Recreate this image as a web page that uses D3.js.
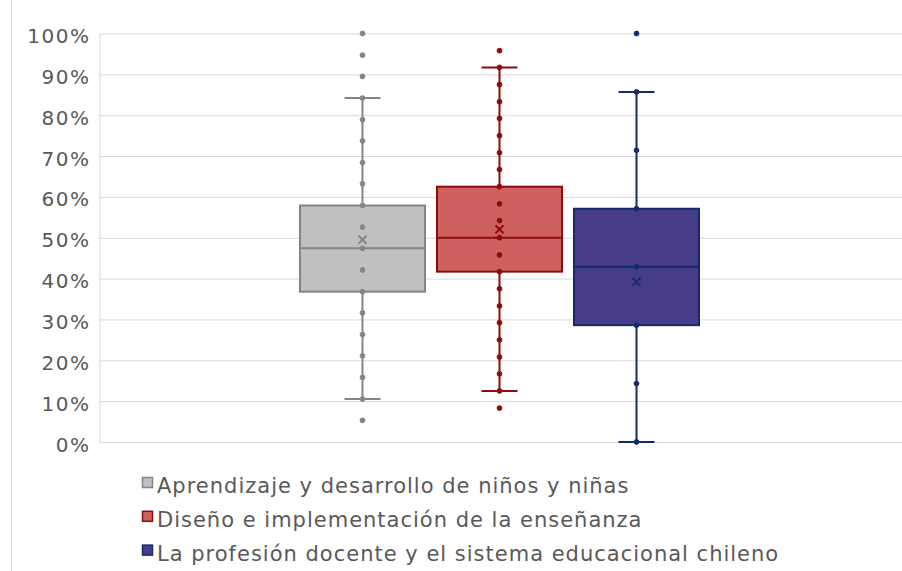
<!DOCTYPE html>
<html>
<head>
<meta charset="utf-8">
<script src="https://cdn.jsdelivr.net/npm/d3@7"></script>
<style>
  body { margin: 0; background: #fff; }
  text { font-family: "DejaVu Sans", sans-serif; fill: #595959; }
</style>
</head>
<body>
<div id="chart"></div>
<script>
// series names, box stats (in %), and the inner points shown on each box
var series = [
  "Aprendizaje y desarrollo de niños y niñas",
  "Diseño e implementación de la enseñanza",
  "La profesión docente y el sistema educacional chileno"
];
var fills = ["#c0c0c0", "#d06060", "#473c8a"];
var strokes = ["#858585", "#8c0c0c", "#142b68"];

var q1 = [36.8, 41.7, 28.6];
var medians = [47.4, 50.0, 42.9];
var q3 = [57.9, 62.5, 57.1];
var whiskerLow = [10.5, 12.5, 0];
var whiskerHigh = [84.2, 91.7, 85.7];
var means = [49.5, 52.1, 39.2];

var pointsA = [5.3, 10.5, 15.8, 21.1, 26.3, 31.6, 36.8, 42.1, 47.4, 52.6, 57.9,
               63.2, 68.4, 73.7, 78.9, 84.2, 89.5, 94.7, 100];
var pointsB = [8.3, 12.5, 16.7, 20.8, 25.0, 29.2, 33.3, 37.5, 41.7, 45.8, 50.0,
               54.2, 58.3, 62.5, 66.7, 70.8, 75.0, 79.2, 83.3, 87.5, 91.7, 95.8];
var pointsC = [0, 14.3, 28.6, 42.9, 57.1, 71.4, 85.7, 100];
var points = [pointsA, pointsB, pointsC];

var yTicks = [0, 10, 20, 30, 40, 50, 60, 70, 80, 90, 100];

var width = 902,
    height = 571,
    margin = {top: 33.5, right: 0, bottom: 129, left: 99.5};

var svg = d3.select("#chart").append("svg")
    .attr("width", width)
    .attr("height", height);

// chart area left border
svg.append("line")
    .attr("x1", 11.5).attr("x2", 11.5)
    .attr("y1", 0).attr("y2", height)
    .style("stroke", "#d9d9d9");

var y = d3.scaleLinear()
    .domain([0, 100])
    .range([height - margin.bottom, margin.top]);

var x = d3.scaleBand()
    .domain(series)
    .range([300, 699])
    .paddingInner(0.0876);

var yAxis = svg.append("g")
    .attr("transform", "translate(" + margin.left + ",0)")
    .call(d3.axisLeft(y)
      .tickValues(yTicks)
      .tickSizeInner(-(width - margin.left))
      .tickSizeOuter(0)
      .tickPadding(9)
      .tickFormat(function(d) { return d + "%"; }));

yAxis.select(".domain").style("stroke", "#d9d9d9");
yAxis.selectAll(".tick line").style("stroke", "#d9d9d9");
yAxis.selectAll(".tick text")
    .style("font-size", "20px")
    .style("letter-spacing", "1.5px")
    .attr("dy", "0.45em");

var capW = 36;

series.forEach(function(s, i) {
  var g = svg.append("g");
  var x0 = x(s), bw = x.bandwidth(), cx = x0 + bw / 2;

  // whisker line
  g.append("line")
      .attr("x1", cx).attr("x2", cx)
      .attr("y1", y(whiskerLow[i])).attr("y2", y(whiskerHigh[i]))
      .style("stroke", strokes[i]).style("stroke-width", 2);

  [whiskerLow[i], whiskerHigh[i]].forEach(function(v) {
    g.append("line")
        .attr("x1", cx - capW / 2).attr("x2", cx + capW / 2)
        .attr("y1", y(v)).attr("y2", y(v))
        .style("stroke", strokes[i]).style("stroke-width", 2);
  });

  // box
  g.append("rect")
      .attr("x", x0).attr("width", bw)
      .attr("y", y(q3[i])).attr("height", y(q1[i]) - y(q3[i]))
      .style("fill", fills[i])
      .style("stroke", strokes[i]).style("stroke-width", 2);

  g.append("line")
      .attr("x1", x0).attr("x2", x0 + bw)
      .attr("y1", y(medians[i])).attr("y2", y(medians[i]))
      .style("stroke", strokes[i]).style("stroke-width", 2);

  // inner points and outliers
  g.selectAll("circle")
      .data(points[i])
      .enter().append("circle")
      .attr("cx", cx)
      .attr("cy", function(d) { return y(d); })
      .attr("r", 2.4)
      .style("fill", strokes[i])
      .style("stroke", strokes[i])
      .style("stroke-width", 1);

  // mean marker
  var m = 4, my = y(means[i]);
  g.append("path")
      .attr("d", "M" + (cx - m) + "," + (my - m) + "L" + (cx + m) + "," + (my + m) +
                 "M" + (cx - m) + "," + (my + m) + "L" + (cx + m) + "," + (my - m))
      .style("stroke", strokes[i]).style("stroke-width", 2);
});

// legend
var legend = svg.append("g").attr("transform", "translate(142.5,477.5)");
series.forEach(function(s, i) {
  var row = legend.append("g").attr("transform", "translate(0," + (i * 33.8) + ")");
  row.append("rect")
      .attr("width", 10).attr("height", 10)
      .style("fill", fills[i])
      .style("stroke", strokes[i]).style("stroke-width", 1.5);
  row.append("text")
      .attr("x", 14.5).attr("y", 15.5)
      .style("font-size", "21px")
      .style("letter-spacing", "1px")
      .text(s);
});
</script>
</body>
</html>
